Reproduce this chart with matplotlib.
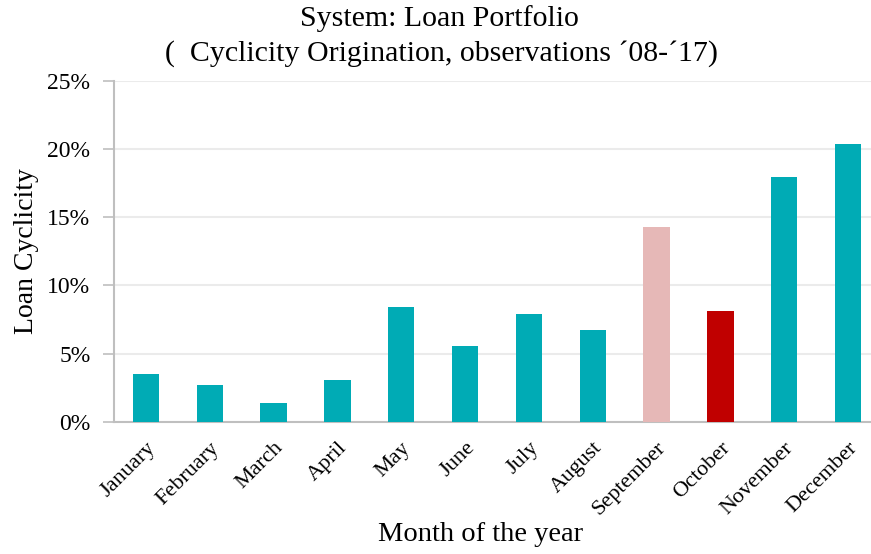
import matplotlib.pyplot as plt
from matplotlib.ticker import PercentFormatter

months = ['January', 'February', 'March', 'April', 'May', 'June', 'July',
          'August', 'September', 'October', 'November', 'December']
cyclicity = [3.5, 2.7, 1.35, 3.05, 8.4, 5.55, 7.9, 6.7, 14.3, 8.1, 17.95, 20.4]
bar_colors = ['#00abb5'] * 8 + ['#e6b8b7', '#c00000'] + ['#00abb5'] * 2

plt.rcParams['font.family'] = ['Liberation Serif', 'DejaVu Serif']

fig = plt.figure(figsize=(8.71, 5.54), dpi=100)
ax = fig.add_axes([114 / 871, 1 - 421.7 / 554, 766 / 871, 340.7 / 554])

ax.bar(range(len(months)), cyclicity, width=0.41, color=bar_colors, zorder=3)

ax.set_xlim(-0.5, len(months) - 0.5)
ax.set_ylim(0, 25)
ax.set_yticks([0, 5, 10, 15, 20, 25])
ax.yaxis.set_major_formatter(PercentFormatter(decimals=0))
ax.set_xticks(range(len(months)))
ax.set_xticklabels(months, rotation=45, ha='right', rotation_mode='anchor', fontsize=16)
ax.tick_params(axis='y', labelsize=17, length=8, color='#bfbfbf', width=1.2, pad=9)
ax.tick_params(axis='x', length=0, pad=12)

ax.grid(axis='y', color='#ebebeb', linewidth=1.5, zorder=0)
for side in ['top', 'right']:
    ax.spines[side].set_visible(False)
for side in ['left', 'bottom']:
    ax.spines[side].set_color('#bfbfbf')
    ax.spines[side].set_linewidth(1.5)

ax.set_ylabel('Loan Cyclicity', fontsize=20)
ax.yaxis.set_label_coords(-0.098, 0.5)
ax.set_xlabel('Month of the year', fontsize=20.5)
ax.xaxis.set_label_coords(0.478, -0.295)
fig.text(0.505, 0.966, 'System: Loan Portfolio', ha='center', va='center', fontsize=21.5)
fig.text(0.507, 0.903, '(  Cyclicity Origination, observations \u00b408-\u00b417)',
         ha='center', va='center', fontsize=21.5)

fig.savefig('out.png', dpi=100)
